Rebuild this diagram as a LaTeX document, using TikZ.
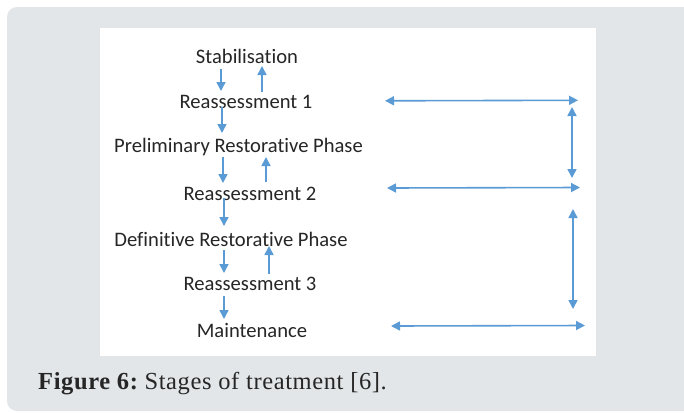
\documentclass[tikz,border=0pt]{standalone}
\usepackage{fontspec}
\setmainfont{Liberation Serif}[LetterSpace=2.5]
\newfontfamily\diag{Carlito}[Ligatures={NoCommon}]
\usetikzlibrary{arrows.meta}
\definecolor{panelgrey}{HTML}{E3E6E8}
\definecolor{arrowblue}{HTML}{5B9BD5}
\definecolor{txtgrey}{HTML}{262626}
\tikzset{
  stagetext/.style={font=\diag\fontsize{20.6}{22}\selectfont, text=txtgrey, inner sep=0pt, anchor=base},
  blue arrow/.style={draw=arrowblue, line width=1.6pt, -{Triangle[length=9pt,width=9pt]}},
  blue double/.style={draw=arrowblue, line width=1.6pt, {Triangle[length=9pt,width=9pt]}-{Triangle[length=9pt,width=9pt]}}
}
\begin{document}
\begin{tikzpicture}[x=1pt,y=-1pt]
\useasboundingbox (0,0) rectangle (684,413);
\fill[white] (0,0) rectangle (684,413);
\fill[panelgrey, rounded corners=10pt] (7,7) rectangle (700,411);
\fill[white] (100,28) rectangle (596,356);

\node[stagetext] (stab) at (247,63) {Stabilisation};
\node[stagetext] (re1) at (246,108) {Reassessment 1};
\node[stagetext] (prel) at (238.5,152) {Preliminary Restorative Phase};
\node[stagetext] (re2) at (250,200) {Reassessment 2};
\node[stagetext] (defi) at (231,246) {Definitive Restorative Phase};
\node[stagetext] (re3) at (250,290) {Reassessment 3};
\node[stagetext] (maint) at (252,337) {Maintenance};

\coordinate (d1s) at (221,69);  \coordinate (d1e) at (221,91);
\coordinate (u1s) at (262,92);  \coordinate (u1e) at (262,66);
\coordinate (d2s) at (222,107); \coordinate (d2e) at (222,133);
\coordinate (d3s) at (223,157); \coordinate (d3e) at (223,183);
\coordinate (u3s) at (266,182); \coordinate (u3e) at (266,157);
\coordinate (d4s) at (224,198); \coordinate (d4e) at (224,226);
\coordinate (d5s) at (224,250); \coordinate (d5e) at (224,273);
\coordinate (u5s) at (269,274); \coordinate (u5e) at (269,246);
\coordinate (d6s) at (224,296); \coordinate (d6e) at (224,319);

\draw[blue arrow] (d1s) -- (d1e);
\draw[blue arrow] (u1s) -- (u1e);
\draw[blue arrow] (d2s) -- (d2e);
\draw[blue arrow] (d3s) -- (d3e);
\draw[blue arrow] (u3s) -- (u3e);
\draw[blue arrow] (d4s) -- (d4e);
\draw[blue arrow] (d5s) -- (d5e);
\draw[blue arrow] (u5s) -- (u5e);
\draw[blue arrow] (d6s) -- (d6e);

\coordinate (h1l) at (385,100.8); \coordinate (h1r) at (578,100.3);
\coordinate (v1t) at (572,107);   \coordinate (v1b) at (572,178);
\coordinate (h2l) at (387,188);   \coordinate (h2r) at (580,187.5);
\coordinate (v2t) at (573,209);   \coordinate (v2b) at (573,309);
\coordinate (h3l) at (391,326);   \coordinate (h3r) at (585,325.5);
\draw[blue double] (h1l) -- (h1r);
\draw[blue double] (v1t) -- (v1b);
\draw[blue double] (h2l) -- (h2r);
\draw[blue double] (v2t) -- (v2b);
\draw[blue double] (h3l) -- (h3r);

\node[anchor=base west, inner sep=0pt, font=\fontsize{24.5}{26}\selectfont, text=txtgrey] (cap) at (38,389)
  {\textbf{Figure 6:}\hspace{-3pt} Stages of treatment [6].};
\end{tikzpicture}
\end{document}
